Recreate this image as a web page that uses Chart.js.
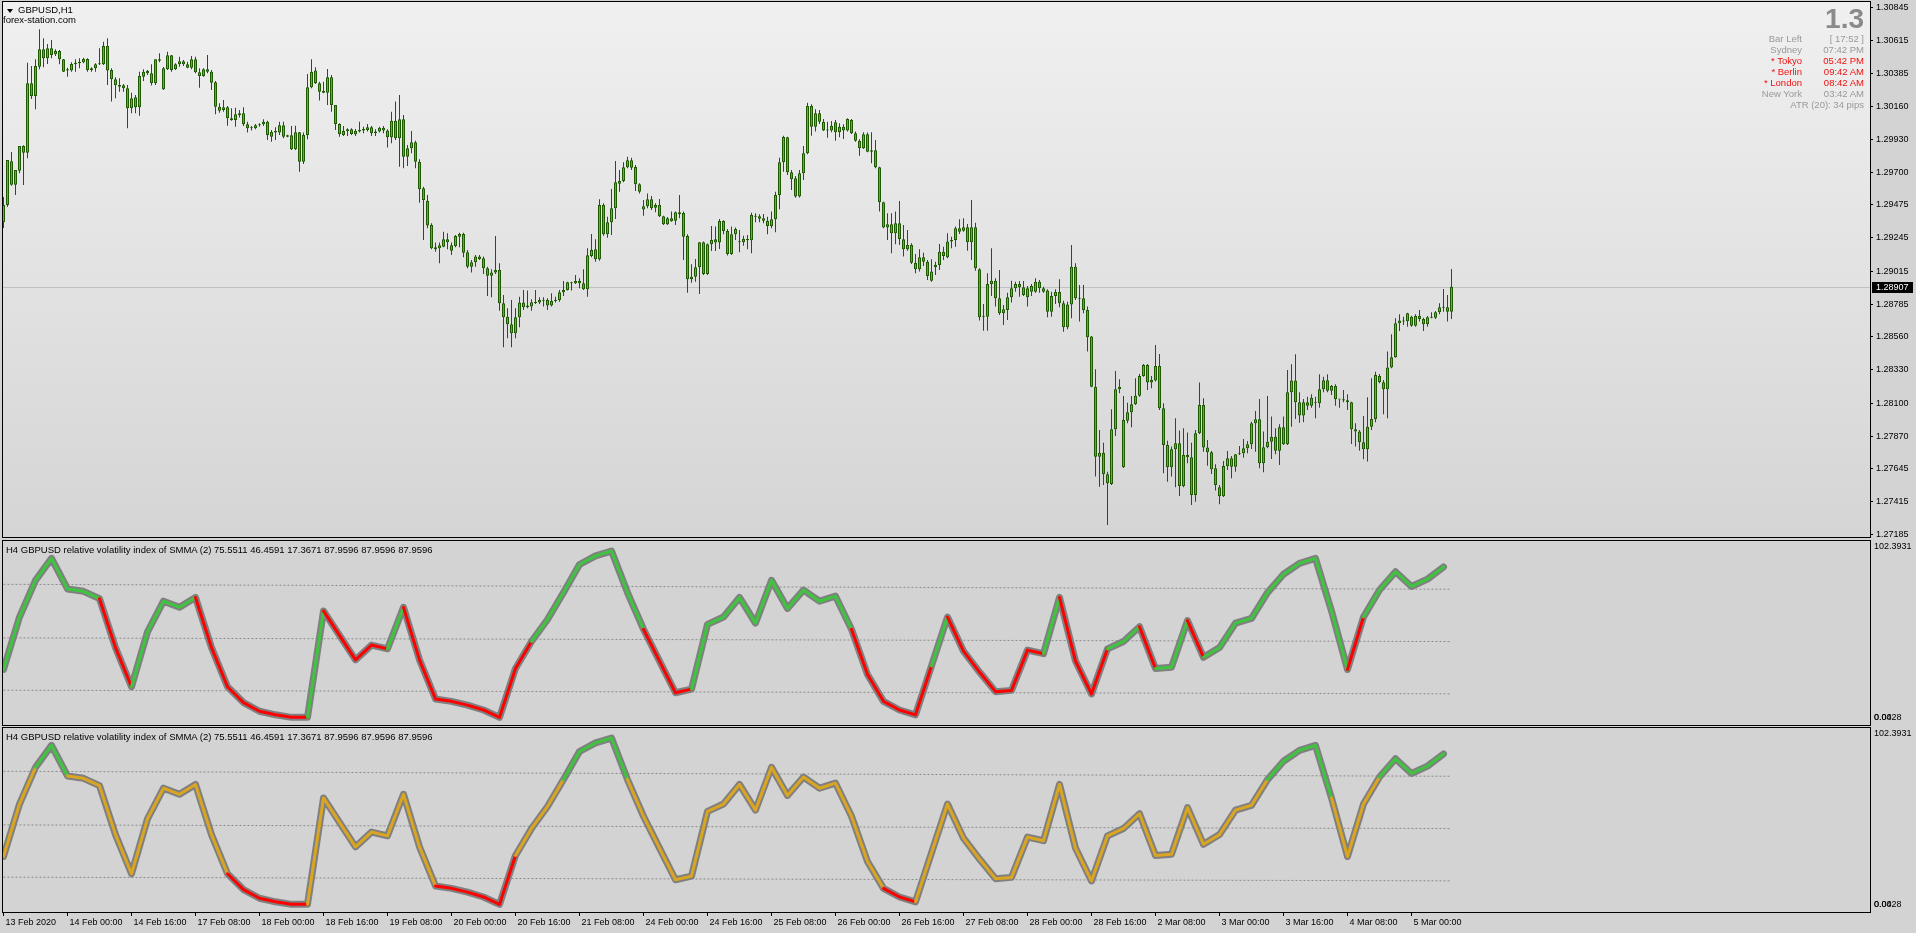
<!DOCTYPE html>
<html>
<head>
<meta charset="utf-8">
<title>GBPUSD,H1</title>
<script src="https://cdn.jsdelivr.net/npm/chart.js@4.4.1/dist/chart.umd.min.js"></script>
<style>
  html, body { margin: 0; padding: 0; }
  body {
    width: 1916px; height: 933px; background: #d3d3d3; position: relative; overflow: hidden;
    font-family: "Liberation Sans", Arial, sans-serif; font-size: 9.5px; color: #000;
  }
  canvas { position: absolute; left: 0; }
  .txt { position: absolute; white-space: pre; line-height: 11px; }
  .lbl { right: 114px; text-align: right; }
  .val { right: 52px; text-align: right; }
  .grey { color: #999; }
  .red { color: #f01010; }
  #tri { position: absolute; left: 7px; top: 9px; width: 0; height: 0;
         border-left: 3px solid transparent; border-right: 3px solid transparent; border-top: 4px solid #000; }
  #big { position: absolute; right: 52px; top: 5px; font-size: 28px; line-height: 28px; font-weight: bold; color: #8a8a8a; }
</style>
</head>
<body>
<canvas id="main" width="1916" height="539" style="top:0"></canvas>
<canvas id="rvi1" width="1916" height="188" style="top:539px"></canvas>
<canvas id="rvi2" width="1916" height="206" style="top:727px"></canvas>

<div id="tri"></div>
<div class="txt" style="left:18px;top:4px">GBPUSD,H1</div>
<div class="txt" style="left:3px;top:14px">forex-station.com</div>

<div id="big">1.3</div>
<div class="txt lbl grey" style="top:33px">Bar Left</div>
<div class="txt val grey" style="top:33px">[ 17:52 ]</div>
<div class="txt lbl grey" style="top:44px">Sydney</div>
<div class="txt val grey" style="top:44px">07:42 PM</div>
<div class="txt lbl red" style="top:55px">* Tokyo</div>
<div class="txt val red" style="top:55px">05:42 PM</div>
<div class="txt lbl red" style="top:66px">* Berlin</div>
<div class="txt val red" style="top:66px">09:42 AM</div>
<div class="txt lbl red" style="top:77px">* London</div>
<div class="txt val red" style="top:77px">08:42 AM</div>
<div class="txt lbl grey" style="top:88px">New York</div>
<div class="txt val grey" style="top:88px">03:42 AM</div>
<div class="txt val grey" style="top:99px">ATR (20): 34 pips</div>

<div class="txt" style="left:6px;top:544px">H4 GBPUSD relative volatility index of SMMA (2) 75.5511 46.4591 17.3671 87.9596 87.9596 87.9596</div>
<div class="txt" style="left:6px;top:731px">H4 GBPUSD relative volatility index of SMMA (2) 75.5511 46.4591 17.3671 87.9596 87.9596 87.9596</div>

<script>
// ---- GBPUSD H1 candles, 13 Feb 2020 08:00 .. 5 Mar 2020 10:00 ----
const opens = [
  1.29356,1.29474,1.29777,1.29615,1.29712,1.29883,1.29837,1.30318,1.30230,1.30433,1.30554,1.30492,1.30561,1.30519,1.30542,1.30485,1.30415,1.30406,1.30450,1.30457,
  1.30464,1.30487,1.30422,1.30422,1.30450,1.30450,1.30577,1.30411,1.30346,1.30306,1.30304,1.30284,1.30145,1.30152,1.30152,1.30364,1.30404,1.30388,1.30318,1.30475,
  1.30277,1.30415,1.30512,1.30415,1.30450,1.30471,1.30450,1.30426,1.30485,1.30394,1.30369,1.30415,1.30399,1.30325,1.30156,1.30133,1.30152,1.30075,1.30064,1.30110,
  1.30110,1.30034,1.30006,1.30006,1.30027,1.30034,1.30052,1.29948,1.29976,1.29976,1.30027,1.29958,1.29958,1.29860,1.29978,1.29774,1.29960,1.30291,1.30406,1.30318,
  1.30265,1.30253,1.30360,1.30168,1.30036,1.29960,1.29987,1.29999,1.29965,1.29983,1.29990,1.29994,1.30013,1.29971,1.29983,1.30010,1.29990,1.29944,1.30059,1.29937,
  1.30069,1.29809,1.29867,1.29909,1.29774,1.29590,1.29504,1.29335,1.29181,1.29174,1.29185,1.29236,1.29157,1.29190,1.29254,1.29273,1.29146,1.29046,1.29077,1.29116,
  1.29104,1.29035,1.28984,1.29023,1.29023,1.28792,1.28699,1.28647,1.28584,1.28695,1.28797,1.28765,1.28769,1.28794,1.28797,1.28810,1.28815,1.28776,1.28808,1.28815,
  1.28869,1.28885,1.28931,1.28931,1.28947,1.28931,1.28889,1.29120,1.29167,1.29098,1.29474,1.29271,1.29354,1.29451,1.29622,1.29641,1.29736,1.29784,1.29738,1.29618,
  1.29442,1.29465,1.29514,1.29474,1.29474,1.29396,1.29340,1.29382,1.29365,1.29424,1.29419,1.29259,1.28959,1.28977,1.29042,1.29215,1.28996,1.29202,1.29236,1.29213,
  1.29363,1.29294,1.29134,1.29271,1.29215,1.29215,1.29229,1.29229,1.29393,1.29396,1.29382,1.29365,1.29329,1.29375,1.29543,1.29770,1.29944,1.29701,1.29659,1.29532,
  1.29694,1.29833,1.30161,1.30017,1.30110,1.30052,1.29990,1.29990,1.30048,1.29978,1.30017,1.29990,1.30064,1.29971,1.29920,1.29867,1.29965,1.29854,1.29854,1.29736,
  1.29493,1.29317,1.29340,1.29278,1.29347,1.29236,1.29167,1.29197,1.29074,1.29028,1.29111,1.29081,1.28949,1.29042,1.29058,1.29150,1.29111,1.29220,1.29231,1.29313,
  1.29296,1.29320,1.29215,1.29320,1.29028,1.28699,1.28699,1.28926,1.28949,1.28827,1.28723,1.28746,1.28834,1.28896,1.28926,1.28903,1.28834,1.28873,1.28873,1.28942,
  1.28896,1.28880,1.28734,1.28843,1.28871,1.28792,1.28626,1.28783,1.29046,1.28827,1.28827,1.28746,1.28561,1.28214,1.27728,1.27756,1.27606,1.27539,1.27918,1.28196,
  1.27655,1.27978,1.28036,1.28092,1.28151,1.28288,1.28364,1.28242,1.28256,1.28357,1.28064,1.27809,1.27655,1.27780,1.27821,1.27525,1.27740,1.27724,1.27463,1.27891,
  1.28087,1.27791,1.27759,1.27648,1.27516,1.27454,1.27664,1.27717,1.27659,1.27745,1.27752,1.27787,1.27814,1.27960,1.27988,1.27683,1.27794,1.27832,1.27867,1.27770,
  1.27932,1.27814,1.28175,1.28256,1.28106,1.28013,1.28106,1.28082,1.28099,1.28099,1.28196,1.28258,1.28186,1.28219,1.28124,1.28126,1.28119,1.28106,1.27918,1.27902,
  1.27828,1.27780,1.27936,1.27990,1.28288,1.28244,1.28196,1.28346,1.28418,1.28654,1.28665,1.28668,1.28699,1.28637,1.28706,1.28683,1.28647,1.28692,1.28692,1.28730,
  1.28762,1.28765,1.28734
];
const highs = [
  1.29530,1.29786,1.29842,1.29717,1.29883,1.29888,1.30461,1.30438,1.30485,1.30693,1.30630,1.30591,1.30619,1.30554,1.30549,1.30487,1.30426,1.30464,1.30485,1.30492,
  1.30496,1.30492,1.30429,1.30457,1.30561,1.30607,1.30630,1.30422,1.30360,1.30353,1.30313,1.30306,1.30253,1.30237,1.30399,1.30415,1.30411,1.30450,1.30485,1.30526,
  1.30431,1.30537,1.30515,1.30457,1.30503,1.30480,1.30468,1.30508,1.30503,1.30422,1.30422,1.30515,1.30411,1.30334,1.30180,1.30202,1.30161,1.30145,1.30149,1.30133,
  1.30152,1.30052,1.30022,1.30036,1.30041,1.30069,1.30059,1.29994,1.30013,1.30052,1.30052,1.29962,1.30022,1.30024,1.29980,1.29976,1.30383,1.30485,1.30429,1.30329,
  1.30329,1.30417,1.30376,1.30168,1.30041,1.30022,1.30006,1.30006,1.30001,1.30052,1.30017,1.30036,1.30022,1.29999,1.30017,1.30022,1.29999,1.30121,1.30191,1.30237,
  1.30098,1.29890,1.29987,1.29920,1.29791,1.29601,1.29543,1.29347,1.29213,1.29213,1.29289,1.29278,1.29213,1.29266,1.29282,1.29282,1.29162,1.29093,1.29127,1.29127,
  1.29116,1.29046,1.29028,1.29259,1.29070,1.28850,1.28758,1.28815,1.28758,1.28838,1.28885,1.28880,1.28820,1.28885,1.28834,1.28834,1.28827,1.28862,1.28838,1.28885,
  1.28947,1.28942,1.28942,1.28989,1.28966,1.29028,1.29174,1.29273,1.29236,1.29514,1.29486,1.29393,1.29585,1.29779,1.29717,1.29770,1.29809,1.29802,1.29752,1.29625,
  1.29509,1.29553,1.29537,1.29486,1.29516,1.29400,1.29391,1.29428,1.29428,1.29543,1.29428,1.29271,1.29063,1.29100,1.29215,1.29220,1.29206,1.29329,1.29324,1.29377,
  1.29368,1.29308,1.29324,1.29317,1.29301,1.29261,1.29266,1.29421,1.29417,1.29410,1.29412,1.29393,1.29428,1.29566,1.29802,1.29955,1.29948,1.29717,1.29675,1.29717,
  1.29883,1.30184,1.30173,1.30138,1.30133,1.30071,1.30052,1.30057,1.30064,1.30041,1.30034,1.30075,1.30071,1.29983,1.29930,1.29978,1.29976,1.29978,1.29925,1.29740,
  1.29497,1.29417,1.29417,1.29428,1.29502,1.29335,1.29301,1.29208,1.29134,1.29167,1.29143,1.29093,1.29098,1.29081,1.29204,1.29185,1.29278,1.29254,1.29324,1.29375,
  1.29382,1.29342,1.29509,1.29351,1.29035,1.28788,1.29000,1.29174,1.28966,1.29023,1.28781,1.28866,1.28949,1.28942,1.28947,1.28947,1.28912,1.28926,1.28966,1.28954,
  1.28907,1.28889,1.28873,1.28889,1.28959,1.28810,1.28803,1.29197,1.29070,1.28919,1.28919,1.28769,1.28566,1.28335,1.27914,1.27825,1.27624,1.28057,1.28323,1.28265,
  1.28149,1.28103,1.28149,1.28272,1.28302,1.28371,1.28371,1.28288,1.28503,1.28441,1.28099,1.27839,1.27798,1.27995,1.27909,1.27925,1.27895,1.27825,1.27914,1.28242,
  1.28133,1.27844,1.27768,1.27676,1.27532,1.27699,1.27768,1.27733,1.27745,1.27803,1.27851,1.27837,1.27971,1.28045,1.28128,1.27902,1.28149,1.28006,1.27925,1.27953,
  1.28006,1.28330,1.28369,1.28439,1.28175,1.28128,1.28144,1.28161,1.28144,1.28300,1.28283,1.28300,1.28226,1.28230,1.28126,1.28191,1.28161,1.28110,1.27960,1.27914,
  1.28011,1.28140,1.28272,1.28318,1.28302,1.28260,1.28457,1.28577,1.28688,1.28716,1.28699,1.28727,1.28706,1.28716,1.28746,1.28692,1.28704,1.28730,1.28739,1.28792,
  1.28891,1.28850,1.29030
];
const lows = [
  1.29315,1.29460,1.29608,1.29543,1.29694,1.29613,1.29798,1.30209,1.30138,1.30415,1.30429,1.30452,1.30492,1.30508,1.30450,1.30397,1.30364,1.30399,1.30399,1.30422,
  1.30457,1.30399,1.30399,1.30399,1.30445,1.30445,1.30306,1.30191,1.30214,1.30260,1.30260,1.30006,1.30110,1.30110,1.30093,1.30334,1.30376,1.30302,1.30306,1.30464,
  1.30272,1.30411,1.30399,1.30411,1.30433,1.30438,1.30422,1.30415,1.30388,1.30288,1.30364,1.30388,1.30272,1.30103,1.30114,1.30121,1.30024,1.30059,1.30017,1.30080,
  1.30022,1.29976,1.29990,1.29999,1.30017,1.30022,1.29925,1.29913,1.29925,1.29960,1.29937,1.29944,1.29856,1.29856,1.29705,1.29758,1.29930,1.30284,1.30313,1.30198,
  1.30249,1.30168,1.30121,1.29994,1.29948,1.29953,1.29953,1.29960,1.29953,1.29976,1.29971,1.29983,1.29953,1.29953,1.29976,1.29971,1.29872,1.29902,1.29925,1.29740,
  1.29729,1.29745,1.29833,1.29729,1.29490,1.29231,1.29313,1.29167,1.29150,1.29070,1.29181,1.29167,1.29127,1.29181,1.29181,1.29111,1.29035,1.29005,1.29046,1.29093,
  1.28996,1.28843,1.28834,1.28996,1.28741,1.28487,1.28550,1.28487,1.28550,1.28626,1.28746,1.28758,1.28741,1.28788,1.28788,1.28769,1.28746,1.28769,1.28797,1.28803,
  1.28843,1.28880,1.28880,1.28926,1.28896,1.28885,1.28838,1.29111,1.29081,1.29088,1.29261,1.29247,1.29266,1.29377,1.29566,1.29632,1.29729,1.29717,1.29571,1.29553,
  1.29400,1.29451,1.29439,1.29424,1.29391,1.29335,1.29335,1.29358,1.29335,1.29382,1.29093,1.28866,1.28935,1.28942,1.28857,1.28989,1.28989,1.29155,1.29155,1.29169,
  1.29271,1.29123,1.29127,1.29231,1.29146,1.29192,1.29167,1.29139,1.29354,1.29354,1.29347,1.29271,1.29313,1.29285,1.29444,1.29705,1.29682,1.29578,1.29525,1.29526,
  1.29648,1.29826,1.29955,1.29983,1.30036,1.29987,1.29941,1.29978,1.29920,1.29944,1.29932,1.29983,1.29967,1.29913,1.29816,1.29863,1.29840,1.29763,1.29729,1.29428,
  1.29313,1.29231,1.29139,1.29202,1.29197,1.29116,1.29157,1.29065,1.29000,1.29012,1.29051,1.28954,1.28942,1.28989,1.29023,1.29093,1.29104,1.29174,1.29185,1.29273,
  1.29289,1.29157,1.29093,1.29018,1.28672,1.28602,1.28602,1.28843,1.28769,1.28711,1.28642,1.28677,1.28797,1.28873,1.28838,1.28843,1.28769,1.28843,1.28866,1.28866,
  1.28866,1.28695,1.28699,1.28788,1.28765,1.28595,1.28612,1.28688,1.28815,1.28665,1.28723,1.28457,1.28210,1.27590,1.27520,1.27532,1.27255,1.27532,1.27872,1.28168,
  1.27650,1.27960,1.27932,1.28087,1.28144,1.28283,1.28191,1.28203,1.28249,1.28052,1.27613,1.27555,1.27590,1.27516,1.27456,1.27516,1.27683,1.27393,1.27416,1.27886,
  1.27763,1.27666,1.27608,1.27493,1.27398,1.27449,1.27636,1.27578,1.27624,1.27740,1.27721,1.27752,1.27782,1.27763,1.27648,1.27620,1.27787,1.27712,1.27745,1.27671,
  1.27809,1.27809,1.27936,1.27990,1.27964,1.27967,1.28052,1.28068,1.27995,1.28068,1.28175,1.28175,1.28156,1.28082,1.28068,1.28106,1.28052,1.27816,1.27798,1.27770,
  1.27710,1.27694,1.27914,1.27967,1.28237,1.28022,1.27995,1.28342,1.28415,1.28600,1.28642,1.28630,1.28630,1.28630,1.28665,1.28600,1.28630,1.28688,1.28683,1.28716,
  1.28734,1.28665,1.28683
];
const closes = [
  1.29474,1.29786,1.29615,1.29717,1.29883,1.29837,1.30318,1.30230,1.30438,1.30554,1.30492,1.30561,1.30515,1.30542,1.30485,1.30399,1.30406,1.30452,1.30461,1.30468,
  1.30487,1.30411,1.30411,1.30450,1.30457,1.30577,1.30406,1.30346,1.30304,1.30295,1.30284,1.30145,1.30214,1.30221,1.30369,1.30399,1.30388,1.30318,1.30485,1.30485,
  1.30422,1.30512,1.30411,1.30450,1.30471,1.30450,1.30426,1.30485,1.30394,1.30369,1.30415,1.30399,1.30322,1.30156,1.30128,1.30152,1.30075,1.30064,1.30103,1.30098,
  1.30034,1.30006,1.30013,1.30027,1.30034,1.30052,1.29958,1.29980,1.29987,1.30027,1.29948,1.29948,1.29860,1.29978,1.29774,1.29960,1.30291,1.30399,1.30318,1.30260,
  1.30253,1.30360,1.30168,1.30036,1.29967,1.29987,1.29999,1.29967,1.29987,1.29994,1.30001,1.30013,1.29971,1.29983,1.30010,1.29990,1.29944,1.30059,1.29937,1.30069,
  1.29809,1.29867,1.29909,1.29774,1.29583,1.29509,1.29331,1.29174,1.29167,1.29195,1.29236,1.29215,1.29195,1.29259,1.29273,1.29143,1.29046,1.29077,1.29116,1.29100,
  1.29035,1.28984,1.29005,1.29005,1.28792,1.28695,1.28647,1.28584,1.28695,1.28797,1.28765,1.28776,1.28799,1.28799,1.28815,1.28815,1.28776,1.28808,1.28815,1.28869,
  1.28885,1.28938,1.28938,1.28947,1.28931,1.28889,1.29125,1.29162,1.29098,1.29474,1.29271,1.29354,1.29451,1.29632,1.29641,1.29736,1.29784,1.29733,1.29618,1.29566,
  1.29465,1.29514,1.29451,1.29455,1.29396,1.29340,1.29382,1.29361,1.29424,1.29410,1.29254,1.28959,1.28977,1.29042,1.29215,1.28996,1.29202,1.29231,1.29213,1.29363,
  1.29294,1.29134,1.29271,1.29308,1.29220,1.29238,1.29238,1.29405,1.29400,1.29379,1.29365,1.29329,1.29375,1.29543,1.29770,1.29946,1.29701,1.29652,1.29532,1.29694,
  1.29833,1.30161,1.30017,1.30110,1.30052,1.29990,1.29994,1.30024,1.29978,1.30017,1.29990,1.30071,1.29971,1.29920,1.29867,1.29965,1.29844,1.29844,1.29736,1.29493,
  1.29317,1.29340,1.29278,1.29347,1.29238,1.29167,1.29197,1.29074,1.29028,1.29111,1.29081,1.28982,1.29012,1.29058,1.29150,1.29120,1.29220,1.29231,1.29313,1.29289,
  1.29320,1.29215,1.29320,1.29035,1.28695,1.28704,1.28926,1.28949,1.28827,1.28723,1.28751,1.28834,1.28896,1.28926,1.28903,1.28850,1.28896,1.28912,1.28942,1.28896,
  1.28873,1.28734,1.28843,1.28871,1.28792,1.28626,1.28783,1.29046,1.28827,1.28824,1.28746,1.28557,1.28214,1.27728,1.27756,1.27606,1.27544,1.27918,1.28196,1.28214,
  1.27983,1.28036,1.28092,1.28151,1.28288,1.28364,1.28242,1.28260,1.28357,1.28064,1.27809,1.27655,1.27780,1.27821,1.27525,1.27740,1.27724,1.27463,1.27891,1.28087,
  1.27791,1.27759,1.27641,1.27532,1.27454,1.27664,1.27717,1.27659,1.27745,1.27752,1.27787,1.27814,1.27960,1.27988,1.27683,1.27794,1.27832,1.27867,1.27770,1.27932,
  1.27814,1.28175,1.28256,1.28106,1.28013,1.28106,1.28082,1.28137,1.28103,1.28196,1.28258,1.28186,1.28219,1.28126,1.28126,1.28117,1.28106,1.27918,1.27902,1.27828,
  1.27780,1.27936,1.27990,1.28295,1.28244,1.28196,1.28346,1.28418,1.28654,1.28672,1.28668,1.28723,1.28637,1.28706,1.28683,1.28647,1.28695,1.28695,1.28730,1.28765,
  1.28765,1.28734,1.28907
];

const priceTicks = [1.30845, 1.30615, 1.30385, 1.30160, 1.29930, 1.29700, 1.29475, 1.29245, 1.29015,
                    1.28785, 1.28560, 1.28330, 1.28100, 1.27870, 1.27645, 1.27415, 1.27185];
const bidPrice = 1.28907;

const timeLabels = ["13 Feb 2020", "14 Feb 00:00", "14 Feb 16:00", "17 Feb 08:00", "18 Feb 00:00", "18 Feb 16:00",
  "19 Feb 08:00", "20 Feb 00:00", "20 Feb 16:00", "21 Feb 08:00", "24 Feb 00:00", "24 Feb 16:00", "25 Feb 08:00",
  "26 Feb 00:00", "26 Feb 16:00", "27 Feb 08:00", "28 Feb 00:00", "28 Feb 16:00", "2 Mar 08:00", "3 Mar 00:00",
  "3 Mar 16:00", "4 Mar 08:00", "5 Mar 00:00"];
const timeLabelBars = [0, 16, 32, 48, 64, 80, 96, 112, 128, 144, 160, 176, 192, 208, 224, 240, 256, 272, 288, 304, 320, 336, 352];

// H4 relative volatility index, one value per H4 bar (every 4th H1 bar)
const rvi = [
  30.9, 60.1, 80.5, 92.7, 75.7, 74.4, 70.3, 43.1, 21.3, 51.9,
  68.9, 65.5, 71.0, 43.1, 21.3, 12.5, 7.7, 5.7, 4.3, 4.3,
  63.5, 49.9, 36.3, 44.5, 42.4, 65.5, 36.3, 14.5, 13.2, 11.1,
  8.4, 4.3, 31.5, 46.5, 58.7, 73.7, 89.3, 94.1, 96.8, 73.7,
  53.3, 35.6, 18.0, 20.0, 56.0, 60.1, 71.0, 56.7, 80.5, 64.9,
  75.1, 68.9, 71.7, 53.3, 28.1, 13.2, 8.4, 5.7, 32.9, 60.1,
  41.1, 29.5, 18.6, 19.3, 41.7, 39.7, 71.0, 35.6, 17.3, 42.4,
  46.5, 54.7, 31.5, 32.2, 58.1, 37.7, 43.1, 56.7, 59.4, 73.7,
  83.9, 90.0, 92.7, 63.5, 30.9, 60.1, 75.1, 85.3, 77.1, 81.2,
  87.96
];
// colour of each segment in the upper pane (g = green, r = red)
const rviColors = "ggggggrrggggrrrrrrrgrrrrgrrrrrrrrgggggggrrrggggggggggrrrrrgrrrrrrgrrrggrggrgggggggggrggggg";

const levelBars = [0, 362];
const levelUpper = [78.3, 75.55];
const levelMiddle = [48.5, 46.46];
const levelLower = [19.4, 17.37];
const rviMax = 102.3931, rviMin = 0.0428;

// ---- chart setup ----
Chart.defaults.font.family = '"Liberation Sans", Arial, sans-serif';
Chart.defaults.font.size = 9;
Chart.defaults.color = '#000';
Chart.defaults.animation = false;

const X_MIN = -0.125, X_MAX = 466.625;   // 4 px per H1 bar
const GREEN = '#3fc43f', RED = '#ff0000', GOLD = '#daa520';

const framePlugin = {
  id: 'frame',
  beforeDraw(chart, args, opts) {
    const a = chart.chartArea, c = chart.ctx;
    c.save();
    if (opts.gradient) {
      const g = c.createLinearGradient(0, a.top, 0, a.bottom);
      g.addColorStop(0, '#f0f0f0');
      g.addColorStop(1, '#d5d5d5');
      c.fillStyle = g;
    } else {
      c.fillStyle = '#d3d3d3';
    }
    c.fillRect(a.left, a.top, a.right - a.left, a.bottom - a.top);
    c.restore();
  },
  afterDraw(chart) {
    const a = chart.chartArea, c = chart.ctx;
    c.save();
    c.strokeStyle = '#000';
    c.lineWidth = 1;
    c.strokeRect(a.left - 0.5, a.top - 0.5, a.right - a.left + 1, a.bottom - a.top + 1);
    c.restore();
  }
};

const bidPlugin = {
  id: 'bid',
  beforeDatasetsDraw(chart) {
    const a = chart.chartArea, c = chart.ctx;
    const y = Math.round(chart.scales.y.getPixelForValue(bidPrice)) + 0.5;
    c.save();
    c.strokeStyle = '#c0c0c0';
    c.beginPath(); c.moveTo(a.left, y); c.lineTo(a.right, y); c.stroke();
    c.restore();
  },
  afterDraw(chart) {
    const a = chart.chartArea, c = chart.ctx;
    const y = Math.round(chart.scales.y.getPixelForValue(bidPrice));
    c.save();
    c.fillStyle = '#000';
    c.fillRect(a.right + 2, y - 5, 41, 11);
    c.fillStyle = '#fff';
    c.font = '9px "Liberation Sans", Arial, sans-serif';
    c.textBaseline = 'middle';
    c.fillText(bidPrice.toFixed(5), a.right + 6, y + 0.5);
    c.restore();
  }
};

// fixed axis sizes, no extra room for half labels
const fixWidth = (s) => { s.width = 46; s.paddingTop = 0; s.paddingBottom = 0; };
const fixHeight = (s) => { s.height = 21; s.paddingLeft = 0; s.paddingRight = 0; };

new Chart(document.getElementById('main'), {
  type: 'bar',
  data: {
    datasets: [
      {
        label: 'body',
        order: 0,
        data: closes.map((c, i) => ({ x: i, y: [opens[i], c] })),
        barThickness: 3,
        grouped: false,
        borderWidth: 1,
        borderSkipped: false,
        inflateAmount: 0,
        minBarLength: 1,
        borderColor: '#1d5a00',
        backgroundColor: (ctx) => closes[ctx.dataIndex] >= opens[ctx.dataIndex] ? '#32cd32' : '#e9604e'
      },
      {
        label: 'wick',
        order: 1,
        data: lows.map((l, i) => ({ x: i, y: [l, highs[i]] })),
        barThickness: 1,
        grouped: false,
        borderWidth: 0,
        inflateAmount: 0,
        backgroundColor: '#1d5a00'
      }
    ]
  },
  options: {
    responsive: false,
    layout: { padding: { left: 3, top: 2, right: 0, bottom: 2 } },
    plugins: { legend: { display: false }, tooltip: { enabled: false }, frame: { gradient: true } },
    scales: {
      x: { type: 'linear', min: X_MIN, max: X_MAX, offset: false, display: false },
      y: {
        position: 'right', min: 1.27171, max: 1.30882,
        afterFit: fixWidth,
        afterBuildTicks: (s) => { s.ticks = priceTicks.map((v) => ({ value: v })); },
        ticks: { autoSkip: false, padding: 3, callback: (v) => v.toFixed(5) },
        grid: { drawOnChartArea: false, drawTicks: true, tickLength: 3, tickColor: '#000' },
        border: { display: false }
      }
    }
  },
  plugins: [framePlugin, bidPlugin]
});

function rviPanel(id, colorOf, withTime) {
  const pts = rvi.map((v, k) => ({ x: k * 4, y: v }));
  const level = (vals) => ({
    type: 'line',
    data: levelBars.map((b, j) => ({ x: b, y: vals[j] })),
    borderColor: '#8c8c8c', borderWidth: 1, borderDash: [2, 2],
    pointRadius: 0, order: 3
  });
  const top = rviMax - 6 * (rviMax - rviMin) / 184;
  const bottom = rviMin + 7 * (rviMax - rviMin) / 184;
  const axisLabels = ['102.3931', '0.0428', '0.00'];
  return new Chart(document.getElementById(id), {
    type: 'line',
    data: {
      datasets: [
        level(levelUpper), level(levelMiddle), level(levelLower),
        {
          data: pts, borderColor: '#808080', borderWidth: 7, pointRadius: 0, tension: 0,
          borderJoinStyle: 'round', borderCapStyle: 'round', order: 2
        },
        {
          data: pts, borderWidth: 3, pointRadius: 0, tension: 0,
          borderJoinStyle: 'round', borderCapStyle: 'round', order: 1,
          borderColor: GREEN,
          segment: { borderColor: (ctx) => colorOf(ctx.p0DataIndex, ctx.p0.parsed.y, ctx.p1.parsed.y) }
        }
      ]
    },
    options: {
      responsive: false,
      layout: { padding: { left: 3, top: withTime ? 1 : 2, right: 0, bottom: withTime ? 0 : 2 } },
      plugins: { legend: { display: false }, tooltip: { enabled: false }, frame: {} },
      scales: {
        x: withTime ? {
          type: 'linear', min: X_MIN, max: X_MAX, offset: false,
          afterFit: fixHeight,
          afterBuildTicks: (s) => { s.ticks = timeLabelBars.map((b) => ({ value: b })); },
          ticks: { autoSkip: false, maxRotation: 0, align: 'start', padding: 1, labelOffset: 2,
                   callback: (v, i) => timeLabels[i] },
          grid: { drawOnChartArea: false, drawTicks: true, tickLength: 4, tickColor: '#000' },
          border: { display: false }
        } : { type: 'linear', min: X_MIN, max: X_MAX, offset: false, display: false },
        y: {
          position: 'right', min: rviMin, max: rviMax,
          afterFit: fixWidth,
          afterBuildTicks: (s) => { s.ticks = [{ value: top }, { value: bottom }, { value: bottom }]; },
          ticks: { autoSkip: false, padding: 4, callback: (v, i) => axisLabels[i] },
          grid: { drawOnChartArea: false, drawTicks: false },
          border: { display: false }
        }
      }
    },
    plugins: [framePlugin]
  });
}

rviPanel('rvi1', (k) => rviColors[k] === 'r' ? RED : GREEN, false);
rviPanel('rvi2', (k, a, b) => {
  const m = (a + b) / 2;
  const t = k * 4 / 362;
  const up = levelUpper[0] + (levelUpper[1] - levelUpper[0]) * t;
  const lo = levelLower[0] + (levelLower[1] - levelLower[0]) * t;
  if (m > up) return GREEN;
  if (m < lo) return RED;
  return GOLD;
}, true);
</script>
</body>
</html>
